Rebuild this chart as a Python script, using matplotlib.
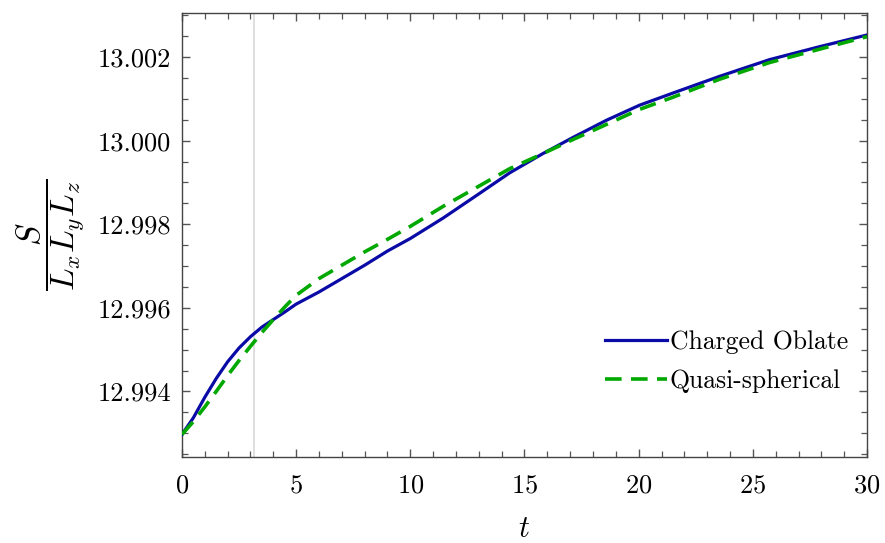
import numpy as np
import matplotlib
matplotlib.use("Agg")
import matplotlib.pyplot as plt
from matplotlib.ticker import MultipleLocator, FormatStrFormatter

plt.rcParams['font.family'] = 'serif'
plt.rcParams['font.serif'] = ['cmr10']
plt.rcParams['mathtext.fontset'] = 'cm'
plt.rcParams['axes.formatter.use_mathtext'] = True

# values
t = [0, 0.5, 1, 1.5, 2, 2.5, 3, 3.5, 4, 4.5, 5, 6, 7, 8, 9, 10,
     11.44, 12.9, 14.35, 15.8, 17.13, 18.59, 20.04, 21.5, 23.54, 25.73, 27.92, 30]
oblate = [12.99297, 12.99337, 12.99386, 12.99431, 12.99471, 12.99504, 12.99531,
          12.99554, 12.99572, 12.99590, 12.99609, 12.99638, 12.99670, 12.99702,
          12.99736, 12.99766, 12.99815, 12.99869, 12.99923, 12.99969, 13.00008,
          13.00049, 13.00085, 13.00114, 13.00154, 13.00194, 13.00225, 13.00253]
quasi = [12.99297, 12.99328, 12.99363, 12.99400, 12.99438, 12.99474, 12.99508,
         12.99541, 12.99572, 12.99602, 12.99630, 12.99670, 12.99702, 12.99734,
         12.99764, 12.99795, 12.99843, 12.99888, 12.99933, 12.99969, 13.00003,
         13.00039, 13.00075, 13.00104, 13.00147, 13.00187, 13.00219, 13.00249]
labels = ['Charged Oblate', 'Quasi-spherical']
t_mark = np.pi

fig = plt.figure(figsize=(8.85, 5.43), dpi=100)
ax = fig.add_axes([0.2056, 0.1575, 0.7741, 0.8185])

ax.axvline(t_mark, color='#dcdcdc', lw=1.3, zorder=1)
ax.plot(t, oblate, color='#0a0aa6', lw=2.3, label=labels[0], zorder=3,
        solid_joinstyle='round')
ax.plot(t, quasi, color='#00a800', lw=2.6, ls=(0, (4.6, 2.6)), label=labels[1],
        zorder=4, dash_joinstyle='round')

ax.set_xlim(0, 30)
ax.set_ylim(12.99242, 13.003055)
ax.xaxis.set_major_locator(MultipleLocator(5))
ax.xaxis.set_minor_locator(MultipleLocator(1))
ax.yaxis.set_major_locator(MultipleLocator(0.002))
ax.yaxis.set_minor_locator(MultipleLocator(0.0005))
ax.yaxis.set_major_formatter(FormatStrFormatter('%.3f'))

for s in ax.spines.values():
    s.set_color('#444444')
    s.set_linewidth(1.0)
ax.tick_params(which='both', direction='in', top=True, right=True,
               color='#555555', labelsize=19)
ax.tick_params(which='major', length=6, width=1.0)
ax.tick_params(which='minor', length=4, width=0.9)
ax.tick_params(axis='y', pad=8)
ax.tick_params(axis='x', pad=12)

ax.set_xlabel('$t$', fontsize=22, labelpad=13)
ax.set_ylabel(r'$\dfrac{S}{L_xL_yL_z}$', fontsize=24, labelpad=8)

ax.legend(loc='center right', bbox_to_anchor=(0.972, 0.215), frameon=False,
          fontsize=18.5, handlelength=2.4, handletextpad=0.1,
          labelspacing=0.6, borderpad=0, borderaxespad=0)

fig.savefig('out.png', dpi=100)
